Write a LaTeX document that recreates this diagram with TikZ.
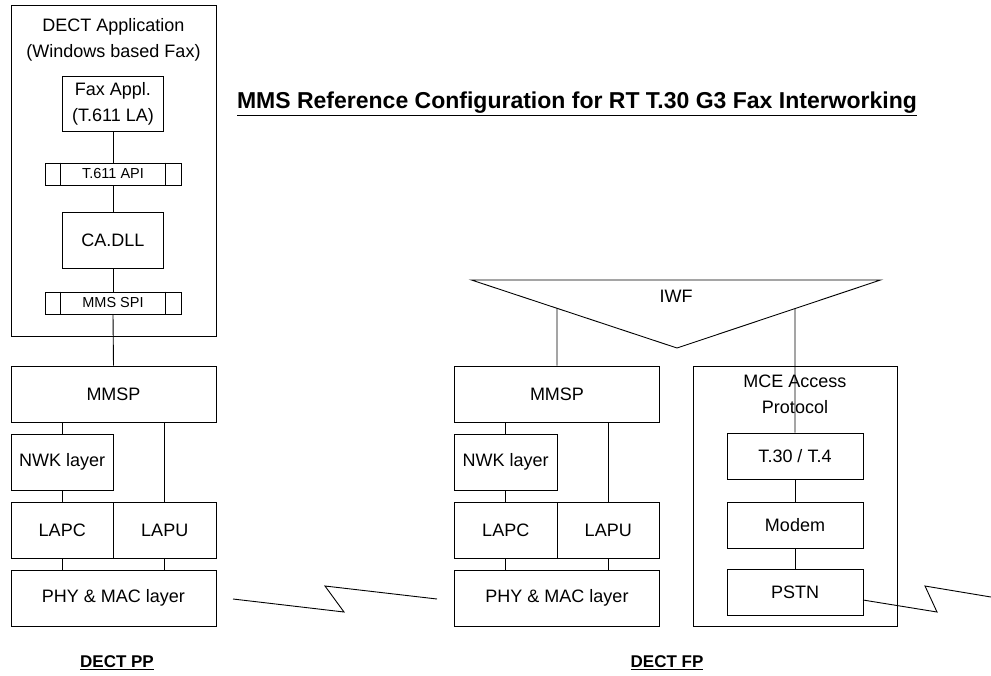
\documentclass[tikz,border=0pt]{standalone}
\usepackage{fontspec}
\setmainfont{Liberation Sans}
\usepackage{tikz}

\begin{document}
\begin{tikzpicture}[x=1pt,y=-1pt,line width=0.9pt,
        txt/.style={align=center,inner sep=0pt,font=\fontsize{18}{26}\selectfont},
        layer/.style={txt,draw},
        full/.style={layer,minimum width=205,minimum height=56},
        half/.style={layer,minimum width=102.5,minimum height=56},
        inner/.style={layer,minimum width=136,minimum height=46},
        api/.style={layer,minimum width=136,minimum height=22,font=\fontsize{14.5}{17}\selectfont},
        caption/.style={inner sep=0pt,font=\bfseries\fontsize{17}{20}\selectfont}]
    \useasboundingbox (0,0) rectangle (991,675);

    \node[caption,font=\bfseries\fontsize{23}{27}\selectfont] (title) at (577,104) {\underline{MMS Reference Configuration for RT T.30 G3 Fax Interworking}};

    \node[layer,minimum width=205,minimum height=331] (app) at (113.5,170.5) {};
    \node[txt] (apptitle) at (113.5,40) {DECT Application\\(Windows based Fax)};
    \node[layer,minimum width=101,minimum height=55] (fax) at (113,103.5) {Fax Appl.\\(T.611 LA)};
    \node[api] (tapi) at (113,174) {T.611 API};
    \node[layer,minimum width=101,minimum height=56] (cadll) at (113,240) {CA.DLL};
    \node[api] (spi) at (113,303) {MMS SPI};

    \node[full] (ppmmsp) at (113.5,394) {MMSP};
    \node[half] (ppnwk) at (62.25,462) {NWK layer};
    \node[half] (pplapc) at (62.25,530) {LAPC};
    \node[half] (pplapu) at (164.75,530) {LAPU};
    \node[full] (ppphy) at (113.5,598) {PHY \& MAC layer};

    \coordinate (iwfL) at (471.5,280);
    \coordinate (iwfR) at (880.5,280);
    \coordinate (iwfB) at (677,348);
    \draw (iwfL) -- (iwfR) -- (iwfB) -- cycle;
    \node[txt] (iwf) at (676,296) {IWF};

    \node[full] (fpmmsp) at (557,394) {MMSP};
    \node[half] (fpnwk) at (505.75,462) {NWK layer};
    \node[half] (fplapc) at (505.75,530) {LAPC};
    \node[half] (fplapu) at (608.25,530) {LAPU};
    \node[full] (fpphy) at (557,598) {PHY \& MAC layer};

    \node[layer,minimum width=204,minimum height=260] (mce) at (795,496) {};
    \node[txt] (mcetitle) at (795,394.5) {MCE Access\\Protocol};
    \node[inner] (t30) at (795,456) {T.30 / T.4};
    \node[inner] (modem) at (795,525) {Modem};
    \node[inner] (pstn) at (795,592) {PSTN};

    \node[caption] (pp) at (117,663) {\underline{DECT PP}};
    \node[caption] (fp) at (667,663) {\underline{DECT FP}};

    \draw ([xshift=16pt]tapi.north west) -- ([xshift=16pt]tapi.south west);
    \draw ([xshift=-16pt]tapi.north east) -- ([xshift=-16pt]tapi.south east);
    \draw ([xshift=16pt]spi.north west) -- ([xshift=16pt]spi.south west);
    \draw ([xshift=-16pt]spi.north east) -- ([xshift=-16pt]spi.south east);

    \draw (fax) -- (tapi) (tapi) -- (cadll) (cadll) -- (spi);
    \draw (spi.south) -- (ppmmsp.north);
    \draw (ppnwk.north) -- (ppnwk.north |- ppmmsp.south) (ppnwk) -- (pplapc);
    \draw (pplapu.north) -- (pplapu.north |- ppmmsp.south);
    \draw (pplapc.south) -- (pplapc.south |- ppphy.north) (pplapu.south) -- (pplapu.south |- ppphy.north);

    \draw (intersection of iwfL--iwfB and fpmmsp.north--fpmmsp.south) -- (fpmmsp.north);
    \draw (intersection of iwfR--iwfB and t30.north--t30.south) -- (t30.north);
    \draw (fpnwk.north) -- (fpnwk.north |- fpmmsp.south) (fpnwk) -- (fplapc);
    \draw (fplapu.north) -- (fplapu.north |- fpmmsp.south);
    \draw (fplapc.south) -- (fplapc.south |- fpphy.north) (fplapu.south) -- (fplapu.south |- fpphy.north);
    \draw (t30) -- (modem) (modem) -- (pstn);

    \coordinate (zl1) at (233,599);
    \coordinate (zl2) at (344,612);
    \coordinate (zl3) at (325,586);
    \coordinate (zl4) at (437,599);
    \draw (zl1) -- (zl2) -- (zl3) -- (zl4);
    \coordinate (zr1) at (863,600);
    \coordinate (zr2) at (937,612);
    \coordinate (zr3) at (925,586);
    \coordinate (zr4) at (991,597);
    \draw (zr1) -- (zr2) -- (zr3) -- (zr4);
\end{tikzpicture}
\end{document}
